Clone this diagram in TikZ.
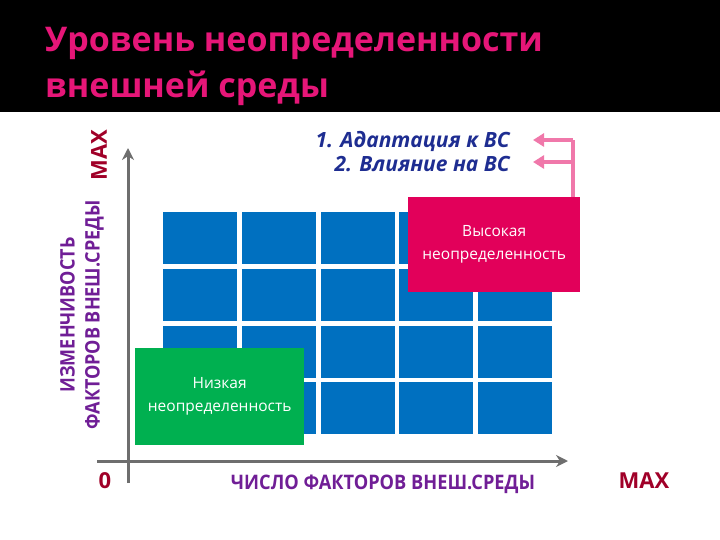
\documentclass[tikz,border=0pt]{standalone}
\usepackage{fontspec}
\setmainfont{Open Sans}
\usepackage{tikz}
\usetikzlibrary{arrows.meta}
\definecolor{titlepink}{RGB}{230,22,120}
\definecolor{cellblue}{RGB}{0,112,192}
\definecolor{highred}{RGB}{226,0,90}
\definecolor{lowgreen}{RGB}{0,176,80}
\definecolor{axisgray}{RGB}{110,110,110}
\definecolor{labelpurple}{RGB}{112,30,150}
\definecolor{maxred}{RGB}{160,0,40}
\definecolor{navytext}{RGB}{30,45,145}
\definecolor{returnpink}{RGB}{240,120,170}
\tikzstyle{cell} = [rectangle, fill=cellblue, anchor=north west, inner sep=0pt,
    minimum width=74pt, minimum height=52pt]
\tikzstyle{zone} = [rectangle, anchor=north west, inner sep=0pt, text=white,
    align=center, font=\fontsize{15.5}{23}\selectfont]
\tikzstyle{axis} = [line width=3pt, draw=axisgray, -{Stealth[length=12pt, width=12pt]}]
\tikzstyle{feedback} = [line width=4pt, draw=returnpink,
    -{Triangle[length=11pt, width=13pt]}]
\tikzstyle{axislabel} = [font=\bfseries\fontsize{20}{25}\selectfont, text=labelpurple, inner sep=0pt]
\tikzstyle{endlabel} = [font=\bfseries\fontsize{22}{22}\selectfont, text=maxred, inner sep=0pt]

\begin{document}
\begin{tikzpicture}[x=1pt, y=-1pt]
    \useasboundingbox (0,0) rectangle (720,540);
    % Title band
    \fill[black] (0,0) rectangle (720,112);
    \node[anchor=base west, inner sep=0pt, text=titlepink, align=left,
        font=\bfseries\fontsize{34}{46}\selectfont] (title) at (45,98)
        {Уровень неопределенности\\внешней среды};
    % Cells
    \foreach \i in {0,...,4}
        \foreach \j in {0,...,3}
            \node[cell] (cell-\i-\j) at (163+78.75*\i, 212+56.7*\j) {};
    % Zones
    \node[zone, fill=highred, minimum width=172pt, minimum height=95pt] (high)
        at (408,197) {Высокая\\неопределенность};
    \node[zone, fill=lowgreen, minimum width=169pt, minimum height=97pt] (low)
        at (135,348) {Низкая\\неопределенность};
    % Axes
    \coordinate (ybottom) at (128,483);
    \coordinate (ytop) at (128,148);
    \coordinate (xleft) at (97,461);
    \coordinate (xright) at (568,461);
    \draw[axis] (ybottom) -- (ytop);
    \draw[axis] (xleft) -- (xright);
    % Axis labels
    \node[endlabel] (zero) at (105,481) {0};
    \node[endlabel] (xmax) at (644,481) {MAX};
    \node[axislabel] (xlabel) at (383,484) {\scalebox{0.91}[1]{ЧИСЛО ФАКТОРОВ ВНЕШ.СРЕДЫ}};
    \node[axislabel, rotate=90, align=center] (ylabel) at (82,315)
        {\scalebox{0.9}[1]{ИЗМЕНЧИВОСТЬ}\\\scalebox{0.9}[1]{ФАКТОРОВ ВНЕШ.СРЕДЫ}};
    \node[endlabel, rotate=90] (ymax) at (99,155) {MAX};
    % Responses
    \node[anchor=base east, inner sep=0pt, text=navytext, align=right,
        font=\bfseries\itshape\fontsize{21}{24}\selectfont] (answers) at (510,172)
        {1. Адаптация к ВС\\2. Влияние на ВС};
    \coordinate (hook) at (573,197);
    \coordinate (hooktop) at (573,140);
    \coordinate (hookmid) at (573,162);
    \coordinate (tip1) at (533,140);
    \coordinate (tip2) at (533,162);
    \draw[returnpink, line width=4pt] (hook) -- (hooktop);
    \draw[feedback] (hooktop) -- (tip1);
    \draw[feedback] (hookmid) -- (tip2);
\end{tikzpicture}
\end{document}
